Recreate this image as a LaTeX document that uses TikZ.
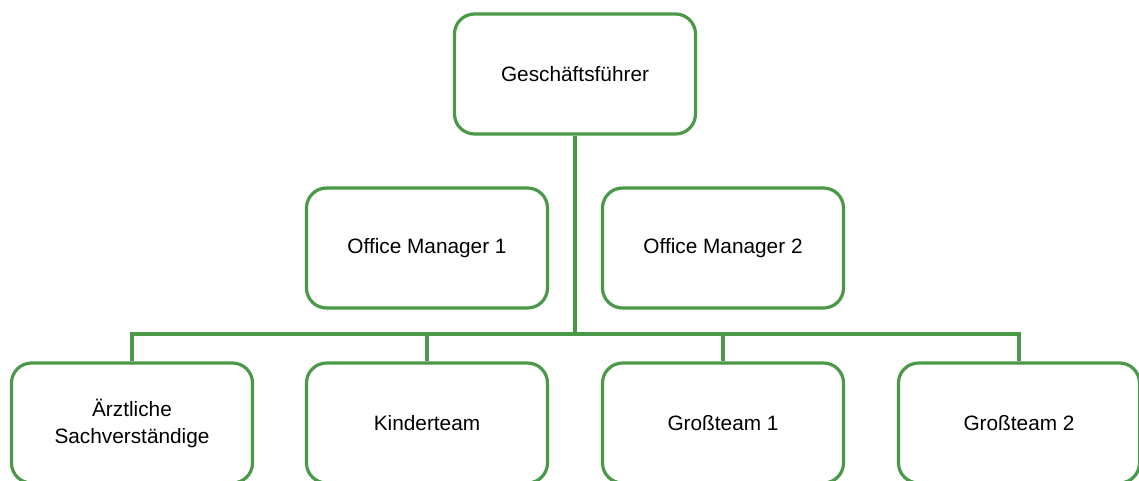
\documentclass[tikz,border=0pt]{standalone}
\usepackage{fontspec}
\setmainfont{Liberation Sans}
\definecolor{boxgreen}{RGB}{74,152,72}
\begin{document}
\begin{tikzpicture}[x=1pt,y=-1pt,
  orgbox/.style={draw=boxgreen, line width=3.2pt, rounded corners=20pt, fill=white,
    minimum width=241pt, minimum height=120pt, inner sep=2pt, align=center,
    font=\fontsize{20.8}{27}\selectfont},
  link/.style={draw=boxgreen, line width=3.2pt}]
\useasboundingbox (0,0) rectangle (1139,480);
\clip (0,0) rectangle (1139,480);
\node[orgbox] (gf) at (575,74) {Geschäftsführer};
\node[orgbox] (om1) at (427,248) {Office Manager 1};
\node[orgbox] (om2) at (723,248) {Office Manager 2};
\node[orgbox] (b1) at (132,423) {Ärztliche\\Sachverständige};
\node[orgbox] (b2) at (427,423) {Kinderteam};
\node[orgbox] (b3) at (723,423) {Großteam 1};
\node[orgbox] (b4) at (1019,423) {Großteam 2};
\coordinate (bus) at (575,334);
\draw[link] (gf.south) -- (bus);
\draw[link] (bus) -| (b1.north);
\draw[link] (bus) -| (b2.north);
\draw[link] (bus) -| (b3.north);
\draw[link] (bus) -| (b4.north);
\end{tikzpicture}
\end{document}
